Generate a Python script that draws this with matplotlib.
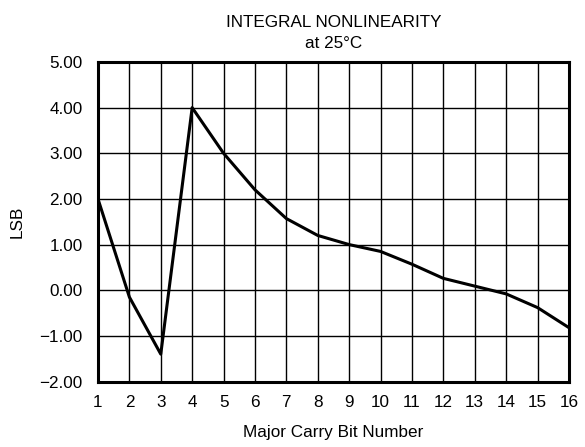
import matplotlib
matplotlib.use("Agg")
import matplotlib.pyplot as plt

bit_number = [1, 2, 3, 4, 5, 6, 7, 8, 9, 10, 11, 12, 13, 14, 15, 16]
inl_lsb = [2.0, -0.15, -1.40, 4.0, 3.0, 2.2, 1.57, 1.2, 1.0, 0.85, 0.57, 0.26,
           0.09, -0.08, -0.38, -0.82]
y_ticks = [-2, -1, 0, 1, 2, 3, 4, 5]
y_labels = ["\u22122.00", "\u22121.00", "0.00", "1.00", "2.00", "3.00", "4.00", "5.00"]

plt.rcParams['font.family'] = ['Liberation Sans', 'DejaVu Sans']

fig = plt.figure(figsize=(5.85, 4.47), dpi=100)
ax = fig.add_axes([0.1675, 0.1465, 0.805, 0.7148])

ax.plot(bit_number, inl_lsb, color='black', lw=2.2, zorder=3)

ax.set_xlim(1, 16)
ax.set_ylim(-2, 5)
ax.set_xticks(bit_number)
ax.set_yticks(y_ticks)
ax.set_yticklabels(y_labels)
ax.grid(True, color='black', lw=1.0)
ax.tick_params(length=0, labelsize=12.3)
ax.tick_params(axis='y', pad=11)
ax.tick_params(axis='x', pad=10)
for s in ax.spines.values():
    s.set_linewidth(2.2)

ax.set_title("INTEGRAL NONLINEARITY\nat 25\u00b0C", fontsize=12.3, pad=10,
             linespacing=1.55)
ax.set_xlabel("Major Carry Bit Number", fontsize=12.3, labelpad=10.5)
ax.set_ylabel("LSB", fontsize=12.3, labelpad=10.5)

fig.savefig("out.png", dpi=100)
